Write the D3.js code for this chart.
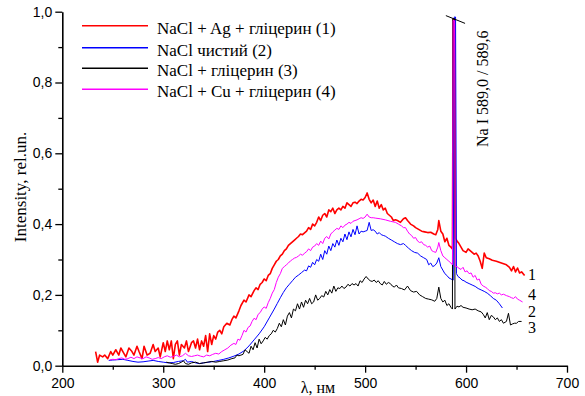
<!DOCTYPE html>
<html>
<head>
<meta charset="utf-8">
<script src="https://cdn.jsdelivr.net/npm/d3@7"></script>
<style>
  body { margin: 0; background: #fff; }
  svg { display: block; }
</style>
</head>
<body>
<div id="chart"></div>
<script>
// spectra: [wavelength nm, intensity rel.un.]
const seriesNames = ['NaCl + Ag + гліцерин (1)', 'NaCl чистий (2)', 'NaCl + гліцерин (3)', 'NaCl + Cu + гліцерин (4)'];
const seriesColors = ['#ff0000', '#0000ff', '#000000', '#ff00ff'];
const endLabels = ['1', '2', '3', '4'];
const xTicks = [200, 300, 400, 500, 600, 700];
const yTicks = [0, 0.2, 0.4, 0.6, 0.8, 1.0];

const red1 = [
  [233,0.04],[235,0.01],[237,0.03],[240,0.025],[242,0.03],[245,0.02],[248,0.04],[250,0.03],[253,0.045],[256,0.03],
  [258,0.05],[261,0.035],[263,0.025],[266,0.05],[269,0.04],[271,0.03],[274,0.055],[276,0.04],[279,0.02],[281,0.055],
  [284,0.03],[287,0.035],[290,0.06],[292,0.04],[295,0.05],[297,0.025],[300,0.065],[302,0.04],[304,0.07],[306,0.045],
  [308,0.07],[310,0.02],[312,0.06],[314,0.07],[316,0.03],[318,0.06],[321,0.05],[323,0.07],[325,0.04],[328,0.065],
  [330,0.07],[332,0.05],[334,0.075],[336,0.045],[338,0.07],[340,0.055],[342,0.085],[344,0.04],[346,0.09],[348,0.06],
  [350,0.085],[352,0.075],[354,0.095],[356,0.1],[358,0.09],[360,0.11],[363,0.12],[366,0.115],[368,0.13],[370,0.14],
  [372,0.135],[375,0.155],[377,0.17],[380,0.185],[382,0.18],[385,0.2],[387,0.195],[390,0.212],[392,0.22],[394,0.215],
  [396,0.23],[398,0.235],[400,0.245],[402,0.24],[404,0.255],[406,0.26],[408,0.275],[410,0.285],[412,0.295],[414,0.3],
  [416,0.31],[418,0.315],[420,0.325],[422,0.33],[424,0.34],[426,0.345],[428,0.35],[430,0.355],[432,0.36],[434,0.365],
  [436,0.372],[438,0.37],[440,0.375],[442,0.38],[444,0.39],[446,0.385],[448,0.4],[450,0.395],[452,0.405],[454,0.42],
  [456,0.41],[458,0.425],[460,0.43],[462,0.42],[464,0.44],[466,0.435],[468,0.445],[470,0.43],[472,0.44],[474,0.445],
  [476,0.44],[478,0.45],[480,0.445],[482,0.46],[484,0.455],[486,0.45],[488,0.46],[490,0.462],[492,0.458],[494,0.465],
  [496,0.47],[498,0.468],[500,0.475],[502,0.488],[504,0.47],[506,0.46],[508,0.468],[510,0.45],[512,0.465],[514,0.445],
  [516,0.455],[518,0.44],[520,0.445],[522,0.43],[524,0.425],[526,0.42],[528,0.41],[530,0.412],[532,0.41],[535,0.405],
  [538,0.415],[540,0.418],[542,0.41],[545,0.4],[548,0.395],[550,0.39],[553,0.385],[556,0.38],[559,0.378],[562,0.376],
  [565,0.377],[568,0.372],[570,0.37],[572,0.385],[573,0.41],[575,0.38],[577,0.372],[579,0.35],[581,0.36],[583,0.34],
  [585,0.335],[586.5,0.33],[587.3,0.98],[588.6,0.98],[589.6,0.36],[591,0.352],[593,0.345],[595,0.335],[597,0.325],[600,0.32],
  [602,0.33],[604,0.325],[606,0.32],[608,0.315],[610,0.318],[612,0.31],[614,0.295],[616,0.275],[618,0.318],[620,0.305],
  [623,0.302],[626,0.298],[630,0.295],[635,0.29],[640,0.285],[643,0.278],[645,0.268],[647,0.28],[649,0.265],[651,0.276],
  [653,0.262],[655,0.265],[658,0.255]
];

const blue2 = [
  [246,0.015],[250,0.016],[255,0.017],[260,0.018],[265,0.015],[270,0.012],[275,0.01],[280,0.011],[285,0.013],[290,0.015],
  [295,0.012],[300,0.01],[305,0.008],[310,0.009],[315,0.012],[320,0.014],[322,0.018],[324,0.01],[328,0.012],[332,0.008],
  [336,0.006],[340,0.008],[345,0.01],[350,0.012],[355,0.015],[360,0.018],[365,0.022],[370,0.027],[375,0.033],[380,0.042],
  [385,0.056],[390,0.073],[395,0.09],[400,0.11],[405,0.135],[410,0.16],[413,0.176],[416,0.192],[419,0.207],[422,0.22],
  [425,0.23],[428,0.24],[431,0.25],[434,0.256],[437,0.263],[440,0.27],[442,0.268],[444,0.282],[446,0.278],[448,0.292],
  [450,0.285],[452,0.3],[454,0.295],[456,0.315],[458,0.3],[460,0.325],[462,0.315],[464,0.338],[466,0.325],[468,0.345],
  [470,0.335],[472,0.355],[474,0.34],[476,0.36],[478,0.35],[480,0.372],[482,0.356],[484,0.378],[486,0.364],[488,0.385],
  [490,0.37],[492,0.395],[494,0.372],[496,0.38],[498,0.378],[500,0.38],[502,0.382],[504,0.405],[506,0.382],[508,0.384],
  [510,0.38],[512,0.372],[514,0.376],[516,0.37],[518,0.368],[520,0.366],[523,0.36],[526,0.355],[529,0.35],[532,0.345],
  [535,0.342],[538,0.345],[540,0.34],[543,0.332],[546,0.325],[549,0.32],[552,0.318],[555,0.31],[558,0.305],[561,0.3],
  [563,0.285],[565,0.29],[567,0.28],[569,0.283],[571,0.29],[573,0.305],[575,0.28],[577,0.27],[579,0.26],[581,0.255],
  [583,0.248],[585,0.245],[587.3,0.242],[588.3,0.985],[589.6,0.985],[590.5,0.26],[592,0.252],[594,0.248],[596,0.242],[598,0.24],
  [600,0.236],[603,0.232],[606,0.228],[609,0.224],[612,0.218],[615,0.214],[618,0.21],[621,0.205],[624,0.198],[627,0.19],
  [630,0.185],[633,0.175],[636,0.163]
];

const black3 = [
  [303,0.01],[306,0.008],[309,0.006],[312,0.004],[315,0.006],[318,0.01],[320,0.014],[322,0.006],[325,0.004],[328,0.008],
  [332,0.01],[336,0.006],[340,0.008],[344,0.01],[348,0.012],[352,0.01],[356,0.012],[360,0.014],[364,0.016],[368,0.02],
  [371,0.022],[373,0.03],[375,0.028],[377,0.03],[379,0.032],[381,0.045],[383,0.04],[385,0.035],[387,0.055],[389,0.045],
  [391,0.065],[393,0.05],[395,0.075],[397,0.062],[399,0.07],[401,0.08],[403,0.075],[405,0.085],[407,0.09],[409,0.1],
  [411,0.095],[413,0.105],[415,0.12],[417,0.11],[419,0.13],[421,0.115],[423,0.14],[425,0.15],[427,0.135],[429,0.16],
  [431,0.155],[433,0.175],[435,0.16],[437,0.18],[439,0.165],[441,0.185],[443,0.175],[445,0.19],[447,0.175],[449,0.18],
  [451,0.2],[453,0.185],[455,0.19],[457,0.198],[459,0.194],[461,0.21],[463,0.2],[465,0.215],[467,0.205],[469,0.225],
  [471,0.21],[473,0.22],[475,0.218],[477,0.225],[479,0.218],[481,0.222],[483,0.23],[485,0.225],[487,0.232],[489,0.228],
  [491,0.232],[493,0.225],[495,0.24],[497,0.235],[499,0.245],[501,0.252],[503,0.245],[505,0.24],[507,0.238],[509,0.242],
  [511,0.235],[513,0.24],[515,0.232],[517,0.228],[519,0.238],[521,0.23],[523,0.235],[525,0.232],[527,0.225],[529,0.222],
  [531,0.228],[533,0.22],[536,0.218],[539,0.214],[542,0.225],[545,0.212],[548,0.208],[551,0.21],[554,0.2],[557,0.195],
  [560,0.19],[563,0.188],[566,0.186],[569,0.182],[571,0.19],[573,0.222],[575,0.19],[577,0.18],[579,0.185],[581,0.17],
  [583,0.175],[585,0.165],[586.5,0.16],[586.9,0.98],[588.6,0.98],[589.0,0.16],[591,0.168],[593,0.166],[595,0.17],[597,0.165],
  [600,0.163],[603,0.16],[606,0.158],[609,0.16],[612,0.155],[615,0.152],[617,0.145],[619,0.135],[621,0.15],[623,0.13],
  [625,0.142],[627,0.138],[629,0.13],[631,0.135],[633,0.125],[635,0.13],[637,0.12],[640,0.125],[642,0.148],[644,0.115],
  [646,0.118],[648,0.12],[650,0.12],[652,0.125],[655,0.125]
];

const magenta4 = [
  [247,0.016],[250,0.018],[253,0.017],[256,0.02],[259,0.022],[262,0.018],[265,0.02],[268,0.024],[271,0.02],[274,0.025],
  [277,0.022],[280,0.02],[283,0.025],[286,0.022],[289,0.018],[292,0.02],[295,0.023],[298,0.02],[301,0.025],[304,0.028],
  [307,0.024],[310,0.026],[313,0.03],[316,0.025],[319,0.028],[322,0.035],[325,0.028],[328,0.026],[331,0.028],[334,0.03],
  [337,0.027],[340,0.025],[343,0.03],[346,0.028],[349,0.032],[352,0.035],[355,0.033],[358,0.04],[361,0.045],[364,0.05],
  [367,0.058],[370,0.063],[372,0.06],[374,0.075],[376,0.072],[378,0.085],[380,0.1],[382,0.095],[384,0.108],[386,0.112],
  [388,0.125],[390,0.134],[392,0.13],[394,0.145],[396,0.15],[398,0.16],[400,0.166],[402,0.162],[404,0.178],[406,0.19],
  [408,0.205],[410,0.215],[412,0.235],[414,0.25],[416,0.26],[418,0.275],[420,0.28],[422,0.285],[424,0.29],[426,0.296],
  [428,0.3],[430,0.304],[432,0.306],[434,0.31],[436,0.315],[438,0.312],[440,0.318],[442,0.322],[444,0.33],[446,0.325],
  [448,0.335],[450,0.338],[452,0.345],[454,0.34],[456,0.352],[458,0.345],[460,0.36],[462,0.365],[464,0.358],[466,0.372],
  [468,0.378],[470,0.383],[472,0.388],[474,0.385],[476,0.395],[478,0.39],[480,0.397],[482,0.4],[484,0.405],[486,0.402],
  [488,0.408],[490,0.41],[492,0.412],[494,0.415],[496,0.418],[498,0.416],[500,0.42],[502,0.428],[504,0.42],[506,0.418],
  [508,0.418],[510,0.417],[515,0.415],[520,0.412],[525,0.408],[530,0.405],[533,0.4],[536,0.395],[538,0.39],[540,0.39],
  [542,0.38],[544,0.372],[546,0.368],[548,0.36],[550,0.362],[552,0.352],[554,0.348],[556,0.35],[558,0.342],[560,0.34],
  [562,0.335],[564,0.338],[566,0.325],[568,0.322],[570,0.32],[572,0.335],[573,0.348],[575,0.325],[577,0.31],[579,0.305],
  [581,0.3],[583,0.295],[585,0.29],[586.5,0.285],[587.2,0.975],[588.6,0.975],[589.3,0.28],[591,0.28],[593,0.275],[595,0.272],
  [597,0.278],[599,0.265],[601,0.268],[603,0.26],[605,0.262],[607,0.25],[609,0.255],[611,0.242],[613,0.245],[615,0.23],
  [617,0.225],[619,0.222],[621,0.218],[623,0.212],[625,0.21],[627,0.205],[629,0.206],[631,0.203],[633,0.205],[635,0.2],
  [637,0.202],[640,0.198],[643,0.195],[645,0.192],[647,0.19],[649,0.195],[651,0.188],[653,0.185],[656,0.18]
];

const allSeries = [red1, blue2, black3, magenta4];
const lineWidths = [1.6, 1, 1, 1];

const width = 585, height = 396;
const margin = { top: 11.7, right: 18, bottom: 30.3, left: 62.3 };

const svg = d3.select('#chart').append('svg')
  .attr('width', width)
  .attr('height', height);

const x = d3.scaleLinear().domain([200, 700]).range([margin.left, width - margin.right]);
const y = d3.scaleLinear().domain([0, 1]).range([height - margin.bottom, margin.top]);

const comma = d => d3.format('.1f')(d).replace('.', ',');

// curves
const line = d3.line().x(d => x(d[0])).y(d => y(d[1]));
allSeries.forEach((s, i) => {
  svg.append('path')
    .datum(s)
    .attr('fill', 'none')
    .attr('stroke', seriesColors[i])
    .attr('stroke-width', lineWidths[i])
    .attr('stroke-linejoin', 'round')
    .attr('d', line);
});

// axes
svg.append('g')
  .attr('transform', 'translate(0,' + y(0) + ')')
  .call(d3.axisBottom(x).tickValues(xTicks).tickSize(7).tickPadding(5).tickSizeOuter(0));
svg.append('g')
  .attr('transform', 'translate(0,' + y(0) + ')')
  .call(d3.axisBottom(x).tickValues([250, 350, 450, 550, 650]).tickSize(4).tickFormat(''))
  .call(g => g.select('.domain').remove());

svg.append('g')
  .attr('transform', 'translate(' + x(200) + ',0)')
  .call(d3.axisLeft(y).tickValues(yTicks).tickFormat(comma).tickSize(7).tickPadding(3).tickSizeOuter(0));
svg.append('g')
  .attr('transform', 'translate(' + x(200) + ',0)')
  .call(d3.axisLeft(y).tickValues([0.1, 0.3, 0.5, 0.7, 0.9]).tickSize(4).tickFormat(''))
  .call(g => g.select('.domain').remove());

svg.selectAll('.domain').attr('stroke-width', 1.6);
svg.selectAll('.tick line').attr('stroke-width', 1.3);
svg.selectAll('.tick text')
  .attr('font-family', '"Liberation Sans", Arial, sans-serif')
  .attr('font-size', '14px')
  .attr('fill', '#000');

// axis titles
svg.append('text')
  .attr('transform', 'translate(26,187) rotate(-90)')
  .attr('text-anchor', 'middle')
  .attr('font-family', '"Liberation Serif", "Times New Roman", serif')
  .attr('font-size', '17px')
  .text('Intensity, rel.un.');

svg.append('text')
  .attr('x', 318)
  .attr('y', 393)
  .attr('text-anchor', 'middle')
  .attr('font-family', '"Liberation Serif", "Times New Roman", serif')
  .attr('font-size', '16px')
  .text('λ, нм');

// legend
const legendRows = [25.7, 47.7, 68.3, 89.3];
const legend = svg.append('g');
seriesNames.forEach((name, i) => {
  legend.append('line')
    .attr('x1', 82).attr('x2', 148)
    .attr('y1', legendRows[i]).attr('y2', legendRows[i])
    .attr('stroke', seriesColors[i])
    .attr('stroke-width', 1.5);
  legend.append('text')
    .attr('x', 157)
    .attr('y', legendRows[i] + 8)
    .attr('font-family', '"Liberation Serif", "Times New Roman", serif')
    .attr('font-size', '17px')
    .text(name);
});

// end-of-curve labels
const endLabelY = [280, 317, 333, 300];
endLabels.forEach((t, i) => {
  svg.append('text')
    .attr('x', 528)
    .attr('y', endLabelY[i])
    .attr('font-family', '"Liberation Serif", "Times New Roman", serif')
    .attr('font-size', '16px')
    .text(t);
});

// Na line annotation
svg.append('line')
  .attr('x1', x(580)).attr('y1', y(0.989))
  .attr('x2', x(599)).attr('y2', y(0.967))
  .attr('stroke', '#000')
  .attr('stroke-width', 1);
svg.append('text')
  .attr('transform', 'translate(488,147) rotate(-90)')
  .attr('font-family', '"Liberation Serif", "Times New Roman", serif')
  .attr('font-size', '16px')
  .text('Na I 589,0 / 589,6');
</script>
</body>
</html>
